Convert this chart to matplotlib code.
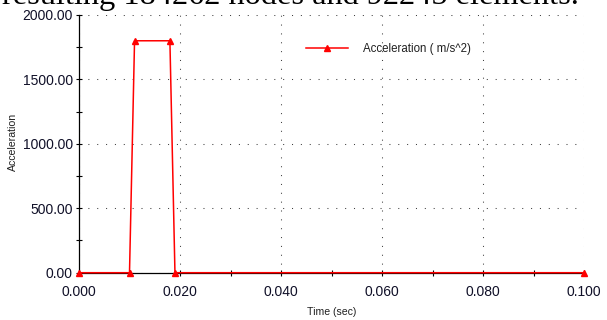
import matplotlib
matplotlib.use("Agg")
import matplotlib.pyplot as plt
from matplotlib.ticker import MultipleLocator, FormatStrFormatter

# Data
time_s = [0.000, 0.010, 0.011, 0.018, 0.019, 0.100]
accel = [0.0, 0.0, 1800.0, 1800.0, 0.0, 0.0]
series_label = "Acceleration ( m/s^2)"
x_label = "Time (sec)"
y_label = "Acceleration"
caption = "resulting 184262 nodes and 92245 elements."

W, H = 607, 320
fig = plt.figure(figsize=(W / 100, H / 100), dpi=100)
plt.rcParams['font.family'] = ['Liberation Sans', 'DejaVu Sans']

left, right = 79 / W, 584 / W
bottom, top = 1 - 272.7 / H, 1 - 15 / H
ax = fig.add_axes([left, bottom, right - left, top - bottom])

ax.plot(time_s, accel, color='#ff0000', lw=1.1, marker='^', markersize=4.2,
        label=series_label, zorder=5, clip_on=False)

ax.set_xlim(0, 0.1)
ax.set_ylim(0, 2000)
ax.xaxis.set_major_locator(MultipleLocator(0.02))
ax.xaxis.set_minor_locator(MultipleLocator(0.01))
ax.yaxis.set_major_locator(MultipleLocator(500))
ax.yaxis.set_minor_locator(MultipleLocator(250))
ax.xaxis.set_major_formatter(FormatStrFormatter('%.3f'))
ax.yaxis.set_major_formatter(FormatStrFormatter('%.2f'))

for s in ['top', 'right']:
    ax.spines[s].set_visible(False)
for s in ['left', 'bottom']:
    ax.spines[s].set_color('black')
    ax.spines[s].set_linewidth(0.9)

tick_col = '#101028'
ax.tick_params(axis='both', which='both', direction='inout', length=4,
               width=0.8, color='black', labelsize=10, labelcolor=tick_col)
ax.tick_params(axis='x', which='major', pad=6.5)
ax.tick_params(axis='y', which='major', pad=2.5)

ax.grid(True, which='major', color='#404040', linestyle=(0, (1, 7.5)), linewidth=0.75)
ax.set_axisbelow(True)

ax.set_xlabel(x_label, fontsize=7.6, color='#202020', labelpad=6)
fig.text(13.3 / W, 1 - 141.7 / H, y_label, rotation=90, fontsize=7.6,
         color='#202020', ha='center', va='center')

leg = ax.legend(loc='center left', bbox_to_anchor=(306 / W, 1 - 49 / H),
                bbox_transform=fig.transFigure, frameon=False, fontsize=8.3,
                handlelength=3.6, handletextpad=1.35, borderpad=0, borderaxespad=0)
for t in leg.get_texts():
    t.set_color('#202020')

fig.text(0.003, 1 - 4 / H, caption, family=['Liberation Serif', 'DejaVu Serif'],
         fontsize=23.3, ha='left', va='baseline', color='black')

fig.savefig('out.png', dpi=100)
